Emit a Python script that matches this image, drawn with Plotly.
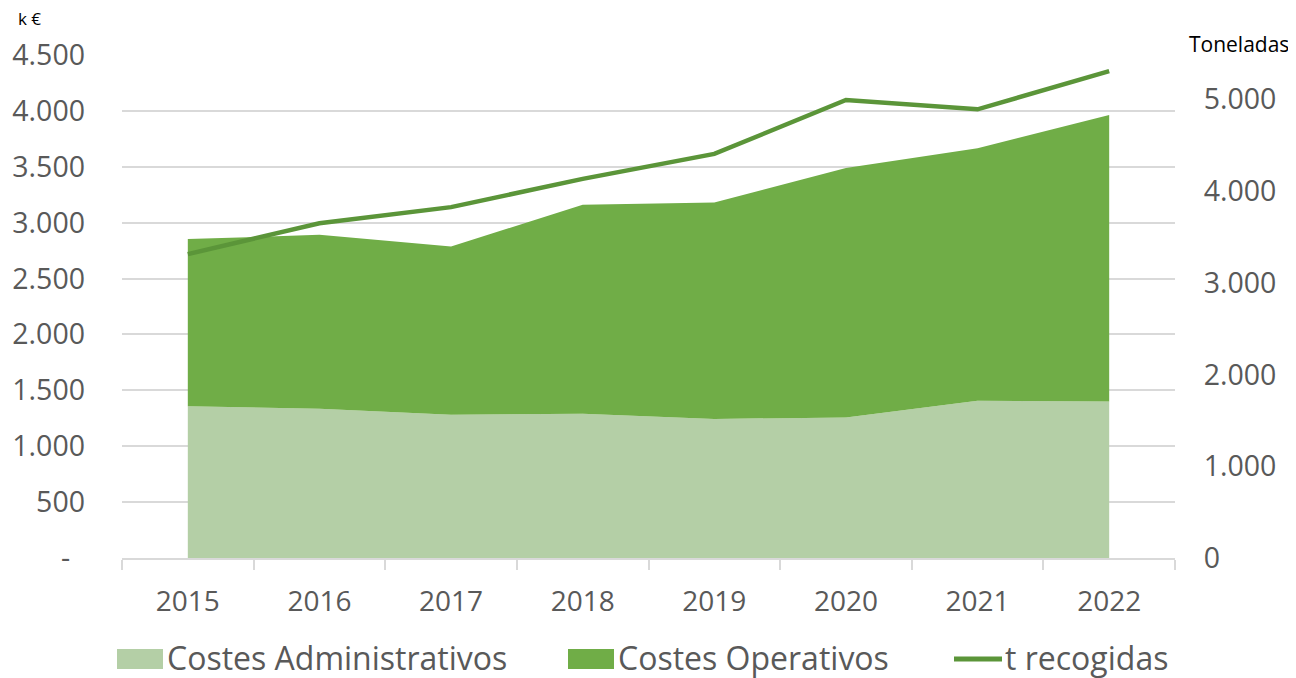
import plotly.graph_objects as go

years = ["2015", "2016", "2017", "2018", "2019", "2020", "2021", "2022"]
costes_admin = [1357, 1336, 1282, 1291, 1244, 1258, 1407, 1399]
costes_oper = [1496, 1555, 1505, 1869, 1936, 2232, 2259, 2564]
t_recogidas = [3314, 3651, 3826, 4134, 4406, 4995, 4893, 5310]

left_ticks = [0, 500, 1000, 1500, 2000, 2500, 3000, 3500, 4000, 4500]
left_text = ["-\u00a0\u00a0", "500", "1.000", "1.500", "2.000", "2.500", "3.000", "3.500", "4.000", "4.500"]
right_ticks = [0, 1000, 2000, 3000, 4000, 5000]
right_text = ["0", "1.000", "2.000", "3.000", "4.000", "5.000"]

C_ADMIN = "#B4CFA6"
C_OPER = "#70AD47"
C_LINE = "#5B9539"
GRAY = "#595959"
FONT = "Open Sans"

# page body has an 8px margin: figure is drawn from (8, 8)
OFF = 8
W_REF, H_REF = 1296, 678
W, H = W_REF - OFF, H_REF - OFF
PL, PR, PT, PB = 122, 1175, 55, 558          # plot area in reference pixels
ML, MR, MT, MB = PL - OFF, W_REF - PR, PT - OFF, H_REF - PB
PW, PH = PR - PL, PB - PT


def px(x):
    return (x - PL) / PW


def py(y):
    return (PB - y) / PH


fig = go.Figure()
fig.add_trace(go.Scatter(x=years, y=costes_admin, name="Costes Administrativos",
                         stackgroup="one", mode="none", fillcolor=C_ADMIN, showlegend=False))
fig.add_trace(go.Scatter(x=years, y=costes_oper, name="Costes Operativos",
                         stackgroup="one", mode="none", fillcolor=C_OPER, showlegend=False))
fig.add_trace(go.Scatter(x=years, y=t_recogidas, name="t recogidas", yaxis="y2",
                         mode="lines", line=dict(color=C_LINE, width=4.5), showlegend=False))

shapes = [
    dict(type="rect", xref="paper", yref="paper", x0=px(117), x1=px(163), y0=py(649), y1=py(669),
         fillcolor=C_ADMIN, line=dict(width=0)),
    dict(type="rect", xref="paper", yref="paper", x0=px(568), x1=px(614), y0=py(649), y1=py(669),
         fillcolor=C_OPER, line=dict(width=0)),
    dict(type="line", xref="paper", yref="paper", x0=px(954), x1=px(1002), y0=py(659), y1=py(659),
         line=dict(color=C_LINE, width=5)),
]

LEG_FONT = dict(size=32, color=GRAY, family=FONT)
annotations = [
    dict(text="Costes Administrativos", x=px(165), y=py(657), xref="paper", yref="paper",
         xanchor="left", yanchor="middle", showarrow=False, font=LEG_FONT),
    dict(text="Costes Operativos", x=px(616), y=py(657), xref="paper", yref="paper",
         xanchor="left", yanchor="middle", showarrow=False, font=LEG_FONT),
    dict(text="t recogidas", x=px(1003), y=py(657), xref="paper", yref="paper",
         xanchor="left", yanchor="middle", showarrow=False, font=LEG_FONT),
    dict(text="k €", x=px(29), y=py(18), xref="paper", yref="paper",
         xanchor="center", yanchor="middle", showarrow=False, font=dict(size=17, color="black", family=FONT)),
    dict(text="Toneladas", x=px(1187), y=py(44), xref="paper", yref="paper",
         xanchor="left", yanchor="middle", showarrow=False, font=dict(size=21, color="black", family=FONT)),
]

fig.update_layout(
    width=W, height=H,
    margin=dict(l=ML, r=MR, t=MT, b=MB, autoexpand=False),
    paper_bgcolor="white", plot_bgcolor="white",
    font=dict(family=FONT, color=GRAY, size=28),
    showlegend=False,
    shapes=shapes,
    annotations=annotations,
    xaxis=dict(type="category", range=[-0.5, 7.5], showgrid=False, showline=True, automargin=False,
               linecolor="#D9D9D9", linewidth=1.5, ticks="outside", ticklen=10, tickwidth=1.5,
               tickcolor="#D9D9D9", tickson="boundaries", tickfont=dict(size=28, color=GRAY),
               ticklabelstandoff=18),
    yaxis=dict(range=[0, 4500], tickvals=left_ticks, ticktext=left_text, showgrid=True, automargin=False,
               gridcolor="#D9D9D9", gridwidth=1.5, zeroline=False, showline=False,
               tickfont=dict(size=28.5, color=GRAY), ticklabelstandoff=36),
    yaxis2=dict(range=[0, 5485], tickvals=right_ticks, ticktext=right_text, overlaying="y", automargin=False,
                side="right", showgrid=False, zeroline=False, showline=False,
                ticks="outside", ticklen=14, tickcolor="rgba(0,0,0,0)",
                tickfont=dict(size=28.5, color=GRAY), ticklabelstandoff=8),
)

fig.write_html("out.html")
